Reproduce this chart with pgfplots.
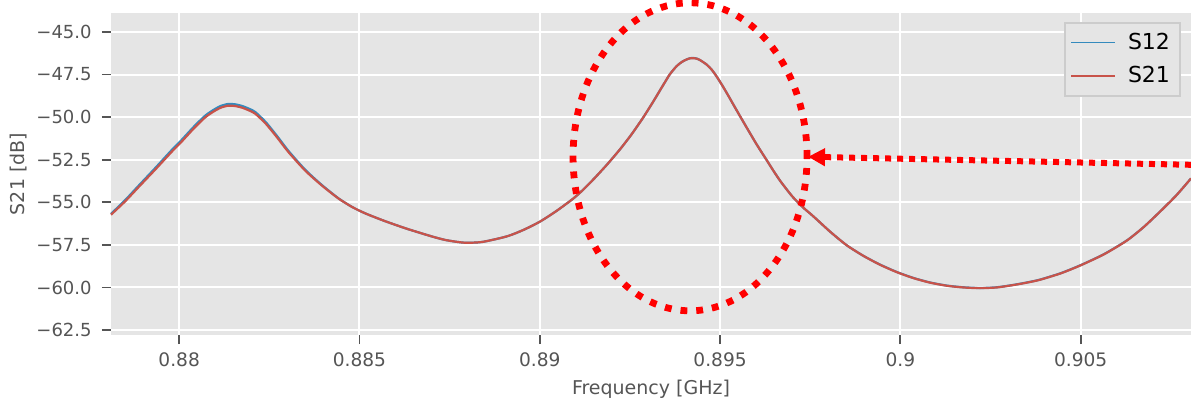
\documentclass[border=0pt]{standalone}
\usepackage{fontspec}
\setmainfont{DejaVu Sans}
\usepackage{pgfplots}
\pgfplotsset{compat=1.18}
\usetikzlibrary{arrows.meta}
\definecolor{bgg}{HTML}{E5E5E5}
\definecolor{tickg}{HTML}{555555}
\definecolor{s12c}{HTML}{348ABD}
\definecolor{s21c}{HTML}{C8534A}
\definecolor{legbd}{HTML}{CCCCCC}

\pgfplotstableread{
f y
0.87811 -55.73
0.87850 -54.95
0.87887 -54.12
0.87935 -53.05
0.87980 -52.02
0.88003 -51.53
0.88040 -50.68
0.88072 -50.02
0.88095 -49.68
0.88115 -49.45
0.88136 -49.33
0.88155 -49.35
0.88175 -49.45
0.88195 -49.62
0.88211 -49.80
0.88240 -50.38
0.88270 -51.15
0.88303 -52.05
0.88350 -53.15
0.88396 -54.02
0.88442 -54.78
0.88480 -55.28
0.88516 -55.65
0.88570 -56.10
0.88631 -56.55
0.88700 -57.00
0.88740 -57.22
0.88790 -57.37
0.88840 -57.33
0.88909 -57.00
0.88955 -56.62
0.89001 -56.13
0.89047 -55.50
0.89093 -54.78
0.89121 -54.25
0.89149 -53.65
0.89186 -52.80
0.89223 -51.88
0.89255 -51.00
0.89287 -50.02
0.89315 -49.08
0.89340 -48.20
0.89361 -47.48
0.89380 -47.00
0.89395 -46.75
0.89407 -46.62
0.89417 -46.55
0.89425 -46.54
0.89435 -46.57
0.89445 -46.66
0.89463 -46.92
0.89477 -47.22
0.89490 -47.60
0.89505 -48.10
0.89519 -48.60
0.89546 -49.60
0.89574 -50.62
0.89602 -51.62
0.89630 -52.55
0.89648 -53.15
0.89666 -53.72
0.89685 -54.25
0.89703 -54.72
0.89730 -55.30
0.89759 -55.83
0.89805 -56.72
0.89851 -57.52
0.89898 -58.15
0.89944 -58.67
0.89990 -59.10
0.90036 -59.45
0.90083 -59.72
0.90129 -59.90
0.90175 -60.00
0.90221 -60.04
0.90267 -60.00
0.90313 -59.86
0.90350 -59.72
0.90387 -59.55
0.90445 -59.17
0.90500 -58.70
0.90565 -58.05
0.90628 -57.25
0.90675 -56.45
0.90720 -55.55
0.90765 -54.60
0.90806 -53.60
}\sxxi

\pgfplotstableread{
f y
0.87811 -55.68
0.87850 -54.88
0.87887 -54.04
0.87935 -52.96
0.87980 -51.92
0.88003 -51.43
0.88040 -50.58
0.88072 -49.92
0.88095 -49.58
0.88115 -49.35
0.88136 -49.23
0.88155 -49.25
0.88175 -49.35
0.88195 -49.52
0.88211 -49.70
0.88240 -50.29
0.88270 -51.07
0.88303 -51.98
0.88350 -53.10
0.88396 -53.99
0.88442 -54.77
0.88480 -55.28
0.88516 -55.65
0.88570 -56.10
0.88631 -56.55
0.88700 -57.00
0.88740 -57.22
0.88790 -57.37
0.88840 -57.33
0.88909 -57.00
0.88955 -56.62
0.89001 -56.13
0.89047 -55.50
0.89093 -54.78
0.89121 -54.25
0.89149 -53.65
0.89186 -52.80
0.89223 -51.88
0.89255 -51.00
0.89287 -50.02
0.89315 -49.08
0.89340 -48.20
0.89361 -47.48
0.89380 -47.00
0.89395 -46.75
0.89407 -46.62
0.89417 -46.54
0.89425 -46.53
0.89435 -46.56
0.89445 -46.66
0.89463 -46.92
0.89477 -47.22
0.89490 -47.60
0.89505 -48.10
0.89519 -48.60
0.89546 -49.60
0.89574 -50.62
0.89602 -51.62
0.89630 -52.55
0.89648 -53.15
0.89666 -53.72
0.89685 -54.25
0.89703 -54.72
0.89730 -55.30
0.89759 -55.83
0.89805 -56.72
0.89851 -57.52
0.89898 -58.15
0.89944 -58.66
0.89990 -59.09
0.90036 -59.44
0.90083 -59.71
0.90129 -59.89
0.90175 -59.99
0.90221 -60.03
0.90267 -59.99
0.90313 -59.85
0.90350 -59.71
0.90387 -59.54
0.90445 -59.16
0.90500 -58.69
0.90565 -58.04
0.90628 -57.24
0.90675 -56.45
0.90720 -55.55
0.90765 -54.60
0.90806 -53.60
}\sxii

\begin{document}
\begin{tikzpicture}
\begin{axis}[
  scale only axis,
  width=540pt, height=161pt,
  xmin=0.87811, xmax=0.90806,
  ymin=-62.79, ymax=-43.89,
  clip=false,
  axis background/.style={fill=bgg},
  axis line style={draw=none},
  grid=major,
  major grid style={white, line width=1pt},
  tick align=outside,
  tick pos=left,
  major tick length=4.5pt,
  every tick/.style={tickg, line width=0.9pt},
  xtick={0.88,0.885,0.89,0.895,0.9,0.905},
  xticklabels={0.88,0.885,0.89,0.895,0.9,0.905},
  ytick={-62.5,-60,-57.5,-55,-52.5,-50,-47.5,-45},
  yticklabels={−62.5,−60.0,−57.5,−55.0,−52.5,−50.0,−47.5,−45.0},
  scaled x ticks=false,
  xticklabel style={font=\fontsize{9.3}{10}\selectfont, text=tickg, inner sep=0pt, anchor=north, yshift=-4.3pt},
  yticklabel style={font=\fontsize{9}{10}\selectfont, text=tickg, inner sep=0pt, anchor=east, xshift=-5pt},
  xlabel={Frequency [GHz]},
  ylabel={S21 [dB]},
  xlabel style={font=\fontsize{9.5}{11}\selectfont, text=tickg, inner sep=0pt, at={(axis description cs:0.5,-0.14)}, anchor=north},
  ylabel style={font=\fontsize{9.5}{11}\selectfont, text=tickg, inner sep=0pt, at={(axis description cs:-0.0935,0.5)}, anchor=north, rotate=0},
  legend style={at={(axis description cs:0.9907,0.972)}, anchor=north east,
    fill=bgg, draw=legbd, line width=1pt, font=\fontsize{11}{13}\selectfont,
    inner xsep=3pt, inner ysep=3pt, row sep=3pt},
  legend cell align=left,
  legend image code/.code={\draw[#1, line width=0.6pt] (0pt,0pt) -- (22pt,0pt);},
  /tikz/every odd column/.append style={column sep=4pt},
]
\addplot[s12c, line width=1.1pt, smooth, tension=0.4] table[x=f, y=y] {\sxii};
\addlegendentry{S12}
\addplot[s21c, line width=1.1pt, smooth, tension=0.4] table[x=f, y=y] {\sxxi};
\addlegendentry{S21}
\draw[red, line width=3.4pt, dash pattern=on 3.4pt off 4.5pt] (axis cs:0.894168,-52.33) ellipse [x radius=58.5pt, y radius=77pt];
\draw[red, line width=3pt, dash pattern=on 3pt off 3pt, -{Triangle[length=8.5pt, width=8.5pt]}] (axis cs:0.90806,-52.80) -- (axis cs:0.89744,-52.33);
\end{axis}
\pgfresetboundingbox
\path ([xshift=-55.5pt, yshift=-31.5pt]current axis.south west) rectangle ([yshift=6.5pt]current axis.north east);
\end{tikzpicture}
\end{document}
